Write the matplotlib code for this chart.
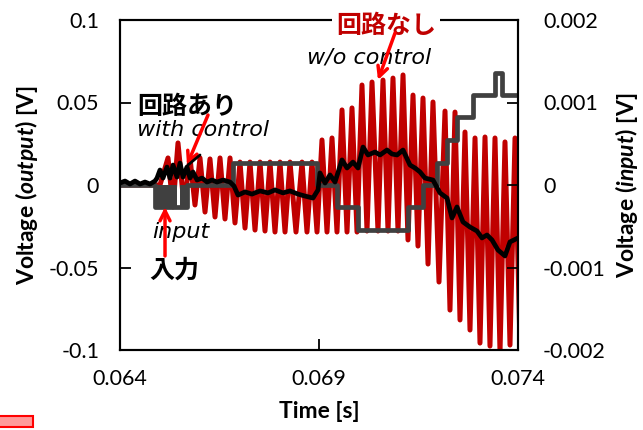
import matplotlib
matplotlib.use('Agg')
import matplotlib.pyplot as plt
from matplotlib.patches import Rectangle

plt.rcParams['font.family'] = ['Lato', 'DejaVu Sans']
plt.rcParams['axes.unicode_minus'] = False
plt.rcParams['mathtext.fontset'] = 'custom'
plt.rcParams['mathtext.rm'] = 'Lato:weight=bold'
plt.rcParams['mathtext.it'] = 'Lato:style=italic:weight=bold'
plt.rcParams['mathtext.bf'] = 'Lato:weight=bold'

# ---------------- data ----------------
# output without control (red), extrema
red_t = [0.064000, 0.065005, 0.065206, 0.065332, 0.065457, 0.065608, 0.065759, 0.065884,
         0.066010, 0.066136, 0.066261, 0.066387, 0.066513, 0.066638, 0.066764, 0.066889,
         0.067015, 0.067141, 0.067266, 0.067392, 0.067518, 0.067643, 0.067769, 0.067894,
         0.068020, 0.068146, 0.068271, 0.068422, 0.068573, 0.068698, 0.068824, 0.068950,
         0.069075, 0.069201, 0.069327, 0.069452, 0.069578, 0.069704, 0.069829, 0.069955,
         0.070080, 0.070206, 0.070332, 0.070482, 0.070608, 0.070734, 0.070859, 0.070985,
         0.071111, 0.071236, 0.071362, 0.071487, 0.071613, 0.071739, 0.071864, 0.072015,
         0.072166, 0.072291, 0.072417, 0.072543, 0.072668, 0.072794, 0.072920, 0.073045,
         0.073171, 0.073296, 0.073422, 0.073548, 0.073673, 0.073799, 0.073925, 0.074050]
red_v = [0.0, 0.0, 0.0164, -0.0133, 0.0255, -0.0121, 0.0164, -0.0121,
         0.0164, -0.0164, 0.0158, -0.0194, 0.0164, -0.0206, 0.0164, -0.0230,
         0.0139, -0.0261, 0.0139, -0.0273, 0.0139, -0.0279, 0.0139, -0.0285,
         0.0139, -0.0285, 0.0139, -0.0285, 0.0139, -0.0285, 0.0139, -0.0285,
         0.0273, -0.0285, 0.0285, -0.0285, 0.0455, -0.0285, 0.0467, -0.0285,
         0.0606, -0.0279, 0.0624, -0.0279, 0.0636, -0.0279, 0.0648, -0.0279,
         0.0667, -0.0333, 0.0545, -0.0370, 0.0527, -0.0479, 0.0503, -0.0588,
         0.0448, -0.0758, 0.0442, -0.0818, 0.0321, -0.0879, 0.0285, -0.0958,
         0.0291, -0.0976, 0.0285, -0.1012, 0.0261, -0.0970, 0.0285, -0.0970]

# output with control (black)
black_t = [0.064000, 0.064126, 0.064251, 0.064377, 0.064503, 0.064628, 0.064754, 0.064879,
           0.064930, 0.065005, 0.065080, 0.065181, 0.065256, 0.065332, 0.065432, 0.065508,
           0.065583, 0.065683, 0.065759, 0.065834, 0.065935, 0.066060, 0.066186, 0.066312,
           0.066437, 0.066588, 0.066764, 0.066864, 0.066965, 0.067141, 0.067317, 0.067518,
           0.067719, 0.067894, 0.068095, 0.068271, 0.068472, 0.068648, 0.068849, 0.068975,
           0.069025, 0.069151, 0.069276, 0.069402, 0.069578, 0.069704, 0.069854, 0.069980,
           0.070106, 0.070231, 0.070407, 0.070533, 0.070709, 0.070834, 0.070960, 0.071111,
           0.071286, 0.071412, 0.071538, 0.071663, 0.071864, 0.072040, 0.072216, 0.072342,
           0.072467, 0.072618, 0.072794, 0.072970, 0.073095, 0.073221, 0.073347, 0.073497,
           0.073673, 0.073799, 0.074000]
black_v = [0.0012, 0.0024, 0.0006, 0.0024, 0.0006, 0.0018, 0.0006, 0.0024,
           0.0042, 0.0091, 0.0042, 0.0109, 0.0042, 0.0121, 0.0048, 0.0133,
           0.0048, 0.0109, 0.0042, 0.0079, 0.0030, 0.0042, 0.0018, 0.0030,
           0.0018, 0.0030, 0.0018, -0.0006, -0.0061, -0.0042, -0.0055, -0.0036,
           -0.0048, -0.0030, -0.0048, -0.0036, -0.0055, -0.0067, -0.0079, -0.0030,
           0.0073, 0.0012, 0.0061, 0.0018, 0.0152, 0.0103, 0.0139, 0.0103,
           0.0230, 0.0182, 0.0200, 0.0182, 0.0212, 0.0188, 0.0182, 0.0212,
           0.0121, 0.0103, 0.0079, 0.0042, 0.0030, -0.0048, -0.0079, -0.0200,
           -0.0133, -0.0224, -0.0255, -0.0279, -0.0321, -0.0303, -0.0333, -0.0394,
           -0.0430, -0.0345, -0.0321]

# input (gray, right axis), step levels
input_t = [0.064000, 0.064879, 0.065683, 0.066839, 0.068950, 0.069452, 0.069980,
           0.071236, 0.071613, 0.071965, 0.072216, 0.072467, 0.072869, 0.073422,
           0.073598, 0.074100]
input_v = [0.0, -0.00027, 0.0, 0.00027, 0.0, -0.00027, -0.00055,
           -0.00027, 0.0, 0.00027, 0.00055, 0.00082, 0.00109, 0.00136,
           0.00109, 0.00109]
# dense switching of the input at the start (drawn filled)
burst_start = [0.064879, 0.065508]
burst_end = [0.065432, 0.065683]
burst_level = -0.00027

x_ticks = [0.064, 0.069, 0.074]
x_labels = ['0.064', '0.069', '0.074']
yl_ticks = [-0.1, -0.05, 0, 0.05, 0.1]
yl_labels = ['-0.1', '-0.05', '0', '0.05', '0.1']
yr_ticks = [-0.002, -0.001, 0, 0.001, 0.002]
yr_labels = ['-0.002', '-0.001', '0', '0.001', '0.002']

RED = '#C00000'
GRAY = '#404040'

# ---------------- figure ----------------
fig = plt.figure(figsize=(6.43, 4.30), dpi=100)
ax1 = fig.add_axes([120/643, 1-350/430, 398/643, 330/430])
ax2 = ax1.twinx()

ax1.plot(red_t, red_v, color=RED, lw=3.6, solid_joinstyle='round', zorder=2)

ax2.step(input_t, input_v, where='post', color=GRAY, lw=3.4, zorder=2)
for s, e in zip(burst_start, burst_end):
    ax2.fill_between([s, e], [0, 0], [burst_level, burst_level], color=GRAY, lw=0, zorder=2)

ax2.plot(black_t, black_v, color='black', lw=3.4, solid_joinstyle='round',
         transform=ax1.transData, zorder=3)

ax1.set_xlim(0.064, 0.074)
ax1.set_ylim(-0.1, 0.1)
ax2.set_ylim(-0.002, 0.002)

ax1.set_xticks(x_ticks)
ax1.set_xticklabels(x_labels)
ax1.set_yticks(yl_ticks)
ax1.set_yticklabels(yl_labels)
ax2.set_yticks(yr_ticks)
ax2.set_yticklabels(yr_labels)

ax1.tick_params(axis='both', direction='in', length=8, width=1.3, labelsize=15.5, colors='black')
ax1.tick_params(axis='y', pad=15)
ax1.tick_params(axis='x', pad=14)
ax2.tick_params(axis='y', direction='in', length=8, width=1.3, labelsize=15.5, pad=18)

for ax in (ax1, ax2):
    for sp in ax.spines.values():
        sp.set_linewidth(1.5)
        sp.set_color('black')

ax1.set_ylabel(r'$\mathrm{Voltage\ (}\mathit{output}\mathrm{)\ [V]}$', fontsize=16.5, labelpad=6)
ax2.set_ylabel(r'$\mathrm{Voltage\ (}\mathit{input}\mathrm{)\ [V]}$', fontsize=16.5, labelpad=5)
ax1.set_xlabel('Time [s]', fontsize=16.5, fontweight='bold', labelpad=8)

# ---------------- annotations ----------------
td = ax1.transData
jp = ['Noto Sans CJK JP', 'DejaVu Sans']
it = ['DejaVu Sans']

ax2.text(0.065683, 0.0470, '回路あり', transform=td, family=jp, fontsize=18,
         fontweight='bold', ha='center', va='center', zorder=6)
ax2.text(0.066085, 0.0335, 'with control', transform=td, family=it, style='italic',
         fontsize=16, ha='center', va='center', zorder=6)
ax2.text(0.070683, 0.0964, '回路なし', transform=td, family=jp, fontsize=18,
         fontweight='bold', color=RED, ha='center', va='center', zorder=6, clip_on=False,
         bbox=dict(facecolor='white', edgecolor='none', pad=3))
ax2.text(0.070256, 0.0770, 'w/o control', transform=td, family=it, style='italic',
         fontsize=16, ha='center', va='center', zorder=6)
ax2.text(0.065533, -0.0285, 'input', transform=td, family=it, style='italic',
         fontsize=16, ha='center', va='center', zorder=6)
ax2.text(0.065357, -0.0521, '入力', transform=td, family=jp, fontsize=18,
         fontweight='bold', ha='center', va='center', zorder=6)

arrow = dict(arrowstyle='->', color='red', lw=2.5, mutation_scale=18, shrinkA=0, shrinkB=0)
ax2.annotate('', xy=(0.065683, 0.0121), xytext=(0.066211, 0.0424),
             xycoords=td, textcoords=td, arrowprops=arrow, zorder=7)
ax2.annotate('', xy=(0.065709, 0.0121), xytext=(0.066010, 0.0182),
             xycoords=td, textcoords=td,
             arrowprops=dict(arrowstyle='-', color='black', lw=2.0, shrinkA=0, shrinkB=0),
             zorder=7)
ax2.annotate('', xy=(0.070482, 0.0636), xytext=(0.070910, 0.0921),
             xycoords=td, textcoords=td, arrowprops=arrow, zorder=7)
ax2.annotate('', xy=(0.065131, -0.0133), xytext=(0.065131, -0.0430),
             xycoords=td, textcoords=td, arrowprops=arrow, zorder=7)

fig.patches.append(Rectangle((-0.01, 0.006), 0.061, 0.026, transform=fig.transFigure,
                             facecolor='#FF9A9A', edgecolor='red', lw=1.5))

fig.savefig('out.png', dpi=100)
